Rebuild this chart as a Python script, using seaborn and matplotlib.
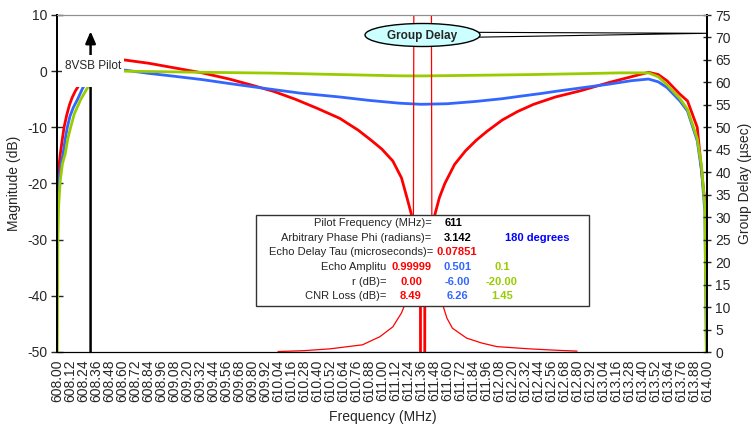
"""8VSB echo response: magnitude and group delay across the 6 MHz channel."""

import matplotlib
matplotlib.use("Agg")
import matplotlib.pyplot as plt
import numpy as np
import pandas as pd
import seaborn as sns
from matplotlib.patches import Ellipse, Polygon, Rectangle

RED = "#FF0000"
BLUE = "#3366FF"
GREEN = "#99CC00"
PALETTE = {"red": RED, "blue": BLUE, "green": GREEN}

PILOT_FREQ = 608.31
PILOT_TOP_DB = 7.1
X_TICKS = np.round(np.arange(608.0, 614.0001, 0.12), 2)

# magnitude (dB), lower band edge up to the pilot label
red_left_freq = [608.00, 608.01, 608.02, 608.03, 608.05, 608.065, 608.09, 608.115, 608.14, 608.17, 608.20]
red_left_db = [-22.4, -19.5, -16.5, -14.8, -12.0, -10.0, -7.8, -6.0, -4.7, -3.5, -2.6]
blue_left_freq = [608.00, 608.01, 608.025, 608.04, 608.055, 608.075, 608.095, 608.12, 608.15, 608.19, 608.235, 608.25]
blue_left_db = [-26.0, -22.0, -18.5, -16.3, -14.8, -12.2, -10.0, -8.0, -6.5, -5.0, -3.1, -2.6]
green_left_freq = [608.00, 608.008, 608.015, 608.03, 608.05, 608.075, 608.10, 608.126, 608.16, 608.22, 608.28, 608.29]
green_left_db = [-60.0, -30.0, -24.0, -19.5, -16.5, -14.8, -12.0, -10.0, -7.6, -5.0, -3.0, -2.8]

# magnitude (dB), rest of the channel
red_main_freq = [608.62, 608.85, 609.08, 609.34, 609.59, 609.80, 610.00, 610.20, 610.40, 610.61,
                 610.78, 610.90, 611.00, 611.10, 611.18, 611.23, 611.27, 611.31, 611.345, 611.355,
                 611.36, 611.39, 611.395, 611.41, 611.44, 611.49, 611.53, 611.58, 611.67, 611.77,
                 611.87, 611.97, 612.11, 612.25, 612.40, 612.60, 612.83, 613.10, 613.30, 613.46,
                 613.55, 613.63, 613.75, 613.82, 613.91, 613.95, 613.99, 614.00]
red_main_db = [2.0, 1.4, 0.6, -0.3, -1.4, -2.5, -3.6, -5.0, -6.6, -8.4,
               -10.5, -12.3, -13.9, -16.0, -19.0, -22.5, -25.4, -30.0, -38.0, -42.0,
               -150.0, -150.0, -42.0, -36.0, -30.0, -25.4, -22.5, -20.0, -16.6, -14.2,
               -12.3, -10.7, -8.7, -7.2, -5.9, -4.6, -3.5, -2.0, -1.0, -0.2,
               -0.6, -1.7, -4.1, -5.3, -10.0, -17.8, -25.0, -60.0]
blue_main_freq = [608.62, 608.85, 609.08, 609.34, 609.59, 609.93, 610.24, 610.61, 610.88, 611.16,
                  611.36, 611.60, 611.86, 612.11, 612.30, 612.46, 612.60, 612.83, 613.10, 613.30,
                  613.46, 613.55, 613.63, 613.75, 613.82, 613.91, 613.95, 613.98, 614.00]
blue_main_db = [0.2, -0.4, -0.9, -1.5, -2.2, -3.1, -3.9, -4.6, -5.2, -5.7,
                -5.9, -5.8, -5.4, -4.9, -4.4, -4.0, -3.6, -3.0, -2.3, -1.7,
                -1.4, -1.9, -2.9, -5.3, -7.1, -12.4, -17.7, -25.0, -60.0]
green_main_freq = [608.62, 609.34, 610.00, 610.60, 611.16, 611.36, 611.80, 612.40, 612.83, 613.20,
                   613.46, 613.55, 613.63, 613.75, 613.82, 613.91, 613.95, 613.98, 614.00]
green_main_db = [0.0, -0.2, -0.35, -0.6, -0.83, -0.85, -0.75, -0.6, -0.45, -0.3,
                 -0.3, -1.0, -2.4, -4.9, -6.8, -12.0, -17.0, -24.0, -60.0]

# group delay (usec)
gd_red_freq = [610.04, 610.28, 610.52, 610.82, 610.98, 611.10, 611.18, 611.21, 611.25, 611.29,
               611.30, 611.45, 611.46, 611.51, 611.56, 611.60, 611.65, 611.78, 611.92, 612.06,
               612.36, 612.60, 612.80]
gd_red = [0.1, 0.3, 0.7, 1.6, 3.4, 5.6, 8.7, 10.5, 18.0, 30.0,
          150.0, 150.0, 30.0, 18.0, 10.5, 7.5, 5.3, 3.1, 2.0, 1.2,
          0.7, 0.4, 0.2]
gd_blue_freq = [610.04, 612.80]
gd_blue = [0.05, 0.05]

# parameter table text
param_labels = ["Pilot Frequency (MHz)=", "Arbitrary Phase Phi (radians)=", "Echo Delay Tau (microseconds)="]
param_values = ["611", "3.142", "0.07851"]
echo_labels = ["Echo Amplitu", "r (dB)=", "CNR Loss (dB)="]
echo_red = ["0.99999", "0.00", "8.49"]
echo_blue = ["0.501", "-6.00", "6.26"]
echo_green = ["0.1", "-20.00", "1.45"]


def frame(freqs, values, echo, segment):
    return pd.DataFrame({"freq": freqs, "value": values, "echo": echo, "segment": segment})


mag_df = pd.concat([
    frame(red_left_freq, red_left_db, "red", "left"),
    frame(red_main_freq, red_main_db, "red", "main"),
    frame(blue_left_freq, blue_left_db, "blue", "left"),
    frame(blue_main_freq, blue_main_db, "blue", "main"),
    frame(green_left_freq, green_left_db, "green", "left"),
    frame(green_main_freq, green_main_db, "green", "main"),
], ignore_index=True)
gd_df = pd.concat([
    frame(gd_blue_freq, gd_blue, "blue", "main"),
    frame(gd_red_freq, gd_red, "red", "main"),
], ignore_index=True)

sns.set_style("white")
plt.rcParams["font.family"] = ["Liberation Sans", "DejaVu Sans"]
plt.rcParams["axes.unicode_minus"] = False

W, H = 754, 425
X0, X1, Y0, Y1 = 57, 707, 15, 352
fig = plt.figure(figsize=(W / 100, H / 100), dpi=100)
ax = fig.add_axes([X0 / W, 1 - Y1 / H, (X1 - X0) / W, (Y1 - Y0) / H])
ax2 = ax.twinx()


def af(x, y):
    """Pixel position in the picture -> axes fraction."""
    return (x - X0) / (X1 - X0), (Y1 - y) / (Y1 - Y0)


sns.lineplot(data=mag_df, x="freq", y="value", hue="echo", units="segment", estimator=None,
             sort=False, palette=PALETTE, hue_order=["red", "blue", "green"],
             linewidth=2.0, legend=False, ax=ax)
sns.lineplot(data=gd_df, x="freq", y="value", hue="echo", units="segment", estimator=None,
             sort=False, palette=PALETTE, linewidth=0.9, legend=False, ax=ax2)

ax.set_xlim(608.0, 614.0)
ax.set_ylim(-50, 10)
ax2.set_ylim(0, 75)
ax.set_xticks(X_TICKS)
ax.set_xticklabels([f"{t:.2f}" for t in X_TICKS], rotation=90, fontsize=10)
ax.set_yticks(range(-50, 11, 10))
ax2.set_yticks(range(0, 76, 5))
ax.tick_params(axis="x", direction="inout", length=7, width=1, pad=2)
ax.tick_params(axis="y", direction="inout", length=8, width=1, labelsize=10, pad=3)
ax2.tick_params(axis="y", direction="inout", length=6, width=1, labelsize=10, pad=3)
for a in (ax, ax2):
    a.set_xlabel("")
    a.set_ylabel("")
    a.spines["top"].set_color("#909090")
    a.spines["bottom"].set_color("black")
    a.spines["left"].set_color("black")
    a.spines["right"].set_color("black")
    a.spines["left"].set_linewidth(1.3)
    a.spines["right"].set_linewidth(1.3)

fig.text(14 / W, 1 - 183 / H, "Magnitude (dB)", rotation=90, ha="center", va="center", fontsize=10)
fig.text(745 / W, 1 - 183 / H, "Group Delay (\u00b5sec)", rotation=90, ha="center", va="center", fontsize=10)
fig.text(383 / W, 1 - 417 / H, "Frequency (MHz)", ha="center", va="center", fontsize=10)

# pilot marker
ax.annotate("", xy=(PILOT_FREQ, PILOT_TOP_DB), xytext=(PILOT_FREQ, -50),
            arrowprops=dict(arrowstyle="-|>,head_length=0.7,head_width=0.3", color="black",
                            lw=1.8, shrinkA=0, shrinkB=0), zorder=3)
bx, by = af(62, 87)
ax.add_patch(Rectangle((bx, by), 62 / (X1 - X0), 32 / (Y1 - Y0), transform=ax.transAxes,
                       facecolor="white", edgecolor="none", zorder=4))
ax.text(*af(93, 66), "8VSB Pilot", transform=ax.transAxes, ha="center", va="center",
        fontsize=8.5, zorder=5)

# group delay callout
ax2.add_patch(Polygon([af(470, 32.3), af(707, 33.3), af(470, 37.3)], closed=True,
                      transform=ax2.transAxes, facecolor="white", edgecolor="black",
                      linewidth=0.8, clip_on=False, zorder=9))
ax2.add_patch(Ellipse(af(422.5, 35), 115 / (X1 - X0), 23 / (Y1 - Y0), transform=ax2.transAxes,
                      facecolor="#CCFFFF", edgecolor="black", linewidth=1, zorder=10))
ax2.text(*af(422.5, 35.5), "Group Delay", transform=ax2.transAxes, ha="center", va="center",
         fontsize=8.5, fontweight="bold", zorder=11)

# parameter table
tx, ty = af(256, 306)
ax2.add_patch(Rectangle((tx, ty), (589 - 256) / (X1 - X0), (306 - 215) / (Y1 - Y0),
                        transform=ax2.transAxes, facecolor="white", edgecolor="#333333",
                        linewidth=1, zorder=10))
rows_top = [223.3, 238.3, 251.7]
rows_bottom = [267.3, 281.7, 296.0]
label_right = [431.7, 431.7, 433.3]
value_left = [444.3, 443.3, 436.7]
value_color = ["black", "black", RED]
for i in range(3):
    ax2.text(*af(label_right[i], rows_top[i]), param_labels[i], transform=ax2.transAxes,
             ha="right", va="center", fontsize=8, zorder=11)
    ax2.text(*af(value_left[i], rows_top[i]), param_values[i], transform=ax2.transAxes,
             ha="left", va="center", fontsize=8, fontweight="bold", color=value_color[i], zorder=11)
ax2.text(*af(505, rows_top[1]), "180 degrees", transform=ax2.transAxes, ha="left", va="center",
         fontsize=8, fontweight="bold", color="#0000FF", zorder=11)
for i in range(3):
    ax2.text(*af(386, rows_bottom[i]), echo_labels[i], transform=ax2.transAxes,
             ha="right", va="center", fontsize=8, zorder=11)
    for col_x, vals, col in ((411, echo_red, RED), (457, echo_blue, BLUE), (502, echo_green, GREEN)):
        ax2.text(*af(col_x, rows_bottom[i]), vals[i], transform=ax2.transAxes, ha="center",
                 va="center", fontsize=8, fontweight="bold", color=col, zorder=11)

fig.savefig("out.png", dpi=100)
